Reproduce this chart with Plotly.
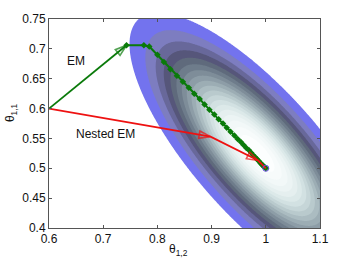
import numpy as np
import plotly.graph_objects as go

# ---- likelihood surface parameters ----
X0, Y0 = 0.985, 0.525      # centre of elliptic contours
QA, QB, QC = 45.0, 35.1, 45.4
ZSCALE = 3.0

# ---- EM path ----
em_start_x = [0.6, 0.743]
em_start_y = [0.6, 0.706]
em_x = [0.743, 0.775, 0.785, 0.800, 0.812, 0.824, 0.836, 0.847, 0.858, 0.868, 0.878,
        0.887, 0.896, 0.905, 0.913, 0.921, 0.928, 0.935, 0.942, 0.948, 0.954, 0.959,
        0.964, 0.969, 0.973, 0.977, 0.981, 0.984, 0.987, 0.990, 0.992, 0.994, 0.996,
        0.998, 1.0]
em_y = [0.706, 0.706, 0.704, 0.690, 0.678, 0.666, 0.655, 0.645, 0.635, 0.625, 0.616,
        0.607, 0.598, 0.590, 0.582, 0.575, 0.568, 0.561, 0.555, 0.549, 0.544, 0.539,
        0.534, 0.530, 0.526, 0.522, 0.518, 0.515, 0.512, 0.509, 0.507, 0.505, 0.503,
        0.502, 0.5]

# ---- Nested EM path ----
nem_x = [0.6, 0.898, 0.986, 1.0]
nem_y = [0.6, 0.553, 0.513, 0.5]

mle_x = [1.0]
mle_y = [0.5]

x_ticks = [0.6, 0.7, 0.8, 0.9, 1.0, 1.1]
x_tick_text = ["0.6", "0.7", "0.8", "0.9", "1", "1.1"]
y_ticks = [0.4, 0.45, 0.5, 0.55, 0.6, 0.65, 0.7, 0.75]
y_tick_text = ["0.4", "0.45", "0.5", "0.55", "0.6", "0.65", "0.7", "0.75"]

# contour band boundaries (in likelihood units) and colours
band_edges = [0.0, 0.05, 0.10, 0.15, 0.20, 0.25, 0.30, 0.35, 0.40, 0.45, 0.50, 0.55,
              0.60, 0.65, 0.70, 0.75, 0.80, 0.85, 0.90, 0.95, 1.0]
band_colors = ["#FFFFFF", "#7373EE", "#7D7DC0", "#68689A", "#56567A",
               "#5F6A7C", "#6E7C8B", "#7E8D99", "#8D9DA7", "#9CADB4", "#ABBCC1",
               "#B9CACD", "#C6D6D8", "#D2E1E2", "#DCE9E9", "#E5EFEF", "#ECF4F4",
               "#F2F8F8", "#F7FBFB", "#FCFEFE"]

gx = np.linspace(0.6, 1.1, 320)
gy = np.linspace(0.4, 0.75, 260)
GX, GY = np.meshgrid(gx, gy)
dx = GX - X0
dy = GY - Y0
Q = QA * dx**2 + 2 * QB * dx * dy + QC * dy**2
Z = np.exp(-ZSCALE * Q)

cscale = []
for i, c in enumerate(band_colors):
    cscale.append([band_edges[i], c])
    cscale.append([band_edges[i + 1], c])

fig = go.Figure()
fig.add_trace(go.Contour(
    x=gx, y=gy, z=Z, zmin=0, zmax=1, zauto=False,
    colorscale=cscale, showscale=False,
    contours=dict(start=0.05, end=0.95, size=0.05, coloring="fill"),
    line=dict(width=0), hoverinfo="skip"))

green = "#0A7A0A"
red = "#EE1111"

fig.add_trace(go.Scatter(
    x=em_start_x, y=em_start_y, mode="lines+markers",
    line=dict(color=green, width=1.8),
    marker=dict(symbol=["circle", "arrow-open"], size=[0, 12], angleref="previous",
                color=green, line=dict(color=green, width=1.6)),
    hoverinfo="skip"))
fig.add_trace(go.Scatter(
    x=em_x, y=em_y, mode="lines+markers",
    line=dict(color=green, width=2),
    marker=dict(symbol="diamond", size=5, color=green),
    hoverinfo="skip"))
fig.add_trace(go.Scatter(
    x=nem_x, y=nem_y, mode="lines+markers",
    line=dict(color=red, width=1.8),
    marker=dict(symbol=["circle", "arrow-open", "arrow-open", "circle"], size=[0, 12, 12, 0],
                angleref="previous", color=red, line=dict(color=red, width=1.6)),
    hoverinfo="skip"))
fig.add_trace(go.Scatter(
    x=mle_x, y=mle_y, mode="markers",
    marker=dict(symbol="circle-open", size=6, color="#6A4CE0", line=dict(width=1)),
    hoverinfo="skip"))

txt = dict(size=12, color="#111111")
fig.add_annotation(x=0.65, y=0.679, text="EM", showarrow=False, font=txt)
fig.add_annotation(x=0.705, y=0.557, text="Nested EM", showarrow=False, font=txt)
# axis titles
fig.add_annotation(xref="paper", yref="paper", x=0.478, y=-0.105,
                   xanchor="center", yanchor="middle",
                   text="θ<sub>1,2</sub>", showarrow=False, font=txt)
fig.add_annotation(xref="paper", yref="paper", x=-0.14, y=0.55, textangle=-90,
                   xanchor="center", yanchor="middle",
                   text="θ<sub>1,1</sub>", showarrow=False, font=txt)

axis_common = dict(showline=True, linecolor="#555555", linewidth=1, mirror="ticks",
                   ticks="inside", ticklen=3, tickcolor="#555555", showgrid=False,
                   zeroline=False, tickfont=dict(size=12, color="#111111"),
                   ticklabeloverflow="allow")
fig.update_xaxes(range=[0.6, 1.1], tickvals=x_ticks, ticktext=x_tick_text, **axis_common)
fig.update_yaxes(range=[0.4, 0.75], tickvals=y_ticks, ticktext=y_tick_text, **axis_common)

fig.update_layout(width=341, height=261, margin=dict(l=49, r=14, t=13, b=33),
                  paper_bgcolor="white", plot_bgcolor="white", showlegend=False,
                  font=dict(family="Liberation Sans, Arial, sans-serif"))
fig.write_html("out.html", config={"displayModeBar": False},
               post_script="document.body.style.margin='0px';")
